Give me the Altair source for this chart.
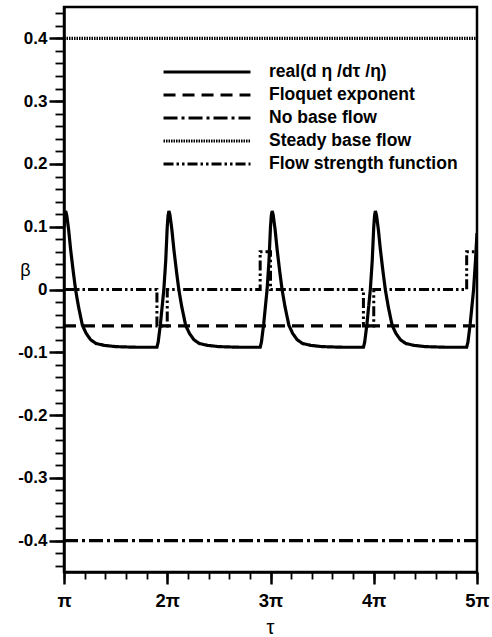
import altair as alt
import pandas as pd

FONT = "Liberation Sans"

# ---- data (tau in units of pi) ----
series_names = ["real(d η /dτ /η)", "Floquet exponent", "No base flow",
                "Steady base flow", "Flow strength function"]

# one period of the solid curve: offsets from n*pi and beta values
period_starts = [1, 2, 3, 4]
curve_offset = [0.0, 0.008, 0.016, 0.026, 0.045, 0.064, 0.09, 0.112, 0.14, 0.178,
                0.215, 0.258, 0.31, 0.39, 0.5, 0.7, 0.9, 0.912, 0.934, 0.967, 0.985]
curve_beta = [0.100, 0.118, 0.125, 0.119, 0.095, 0.064, 0.028, 0.0, -0.027, -0.057,
              -0.070, -0.080, -0.086, -0.089, -0.091, -0.092, -0.092, -0.084, -0.055, 0.0, 0.045]
curve_end_tau = [5.0]
curve_end_beta = [0.09]

floquet_tau = [1, 5]
floquet_beta = [-0.058, -0.058]
nobase_tau = [1, 5]
nobase_beta = [-0.4, -0.4]
steady_tau = [1, 5]
steady_beta = [0.4, 0.4]
flow_tau = [1, 1.9, 1.9, 2.0, 2.0, 2.9, 2.9, 3.0, 3.0, 3.9, 3.9, 4.0, 4.0, 4.9, 4.9, 5.0]
flow_beta = [0, 0, -0.058, -0.058, 0, 0, 0.06, 0.06, 0, 0, -0.058, -0.058, 0, 0, 0.06, 0.06]

x_major = [1, 2, 3, 4, 5]
y_major = [-0.4, -0.3, -0.2, -0.1, 0, 0.1, 0.2, 0.3, 0.4]
x_minor = [round(1 + 0.2 * i, 2) for i in range(21)]
y_minor = [round(-0.44 + 0.02 * i, 2) for i in range(45)]

dash_range = [[1, 0], [12, 7], [14, 4, 3, 4], [1.5, 1], [10, 3, 2.5, 3, 2.5, 3]]
width_range = [3.2, 3, 2.8, 2.2, 2.8]

rows = []
i = 0
for n in period_starts:
    for o, b in zip(curve_offset, curve_beta):
        rows.append({"tau": n + o, "beta": b, "series": series_names[0], "i": i}); i += 1
for t, b in zip(curve_end_tau, curve_end_beta):
    rows.append({"tau": t, "beta": b, "series": series_names[0], "i": i}); i += 1
for name, ts, bs in [(series_names[1], floquet_tau, floquet_beta),
                     (series_names[2], nobase_tau, nobase_beta),
                     (series_names[3], steady_tau, steady_beta),
                     (series_names[4], flow_tau, flow_beta)]:
    for t, b in zip(ts, bs):
        rows.append({"tau": t, "beta": b, "series": name, "i": i}); i += 1
df = pd.DataFrame(rows)

xscale = alt.Scale(domain=[1, 5], nice=False, zero=False)
yscale = alt.Scale(domain=[-0.45, 0.45], nice=False, zero=False)

legend_kw = dict(title=None, orient="none", legendX=134, legendY=56,
                 symbolType="M-6,0L6,0", symbolSize=210, symbolStrokeColor="black",
                 labelFont=FONT, labelFontSize=17.5, labelFontWeight="bold",
                 labelColor="black", labelOffset=53, rowPadding=5, padding=0,
                 labelLimit=400)

lines = alt.Chart(df).mark_line(color="black", clip=True).encode(
    x=alt.X("tau:Q", scale=xscale, axis=alt.Axis(
        values=x_major, orient="bottom", grid=False,
        labelExpr="datum.value == 1 ? 'π' : datum.value + 'π'",
        tickSize=12, tickWidth=2.5, tickColor="black",
        domainColor="black", domainWidth=2.5,
        labelFont=FONT, labelFontSize=18.5, labelFontWeight="bold", labelColor="black",
        labelPadding=7, labelFlush=False, labelOverlap=False,
        title="τ", titleFont=FONT, titleFontSize=20, titleFontWeight="normal",
        titleColor="black", titleX=206, titleY=61, titleBaseline="alphabetic")),
    y=alt.Y("beta:Q", scale=yscale, axis=alt.Axis(
        values=y_major, orient="left", grid=False,
        labelExpr="'' + round(datum.value * 10) / 10",
        tickSize=15, tickWidth=2.5, tickColor="black",
        domainColor="black", domainWidth=2.5,
        labelFont=FONT, labelFontSize=17, labelFontWeight="bold", labelColor="black",
        labelPadding=2, labelOverlap=False,
        title="β", titleFont=FONT, titleFontSize=18, titleFontWeight="normal",
        titleColor="black", titleAngle=0, titleX=-39, titleY=263,
        titleAlign="center", titleBaseline="middle")),
    strokeDash=alt.StrokeDash("series:N", scale=alt.Scale(domain=series_names, range=dash_range),
                              legend=alt.Legend(**legend_kw)),
    strokeWidth=alt.StrokeWidth("series:N", scale=alt.Scale(domain=series_names, range=width_range),
                                legend=alt.Legend(**legend_kw)),
    order="i:Q",
)

minor = alt.Chart(df).mark_point(opacity=0).encode(
    x=alt.X("tau:Q", scale=xscale, axis=alt.Axis(
        values=x_minor, orient="bottom", grid=False, labels=False, domain=False,
        tickSize=7, tickWidth=1.8, tickColor="black", title=None)),
    y=alt.Y("beta:Q", scale=yscale, axis=alt.Axis(
        values=y_minor, orient="left", grid=False, labels=False, domain=False,
        tickSize=9, tickWidth=1.8, tickColor="black", title=None)),
)

chart = alt.layer(lines, minor).resolve_axis(x="independent", y="independent").properties(
    width=413, height=565,
    padding={"left": 64, "top": 7, "right": 15, "bottom": 65},
    autosize=alt.AutoSizeParams(type="none"),
    background="white",
).configure_view(stroke="black", strokeWidth=2.5)

chart.save("out.html", embed_options={"renderer": "svg", "actions": False})
